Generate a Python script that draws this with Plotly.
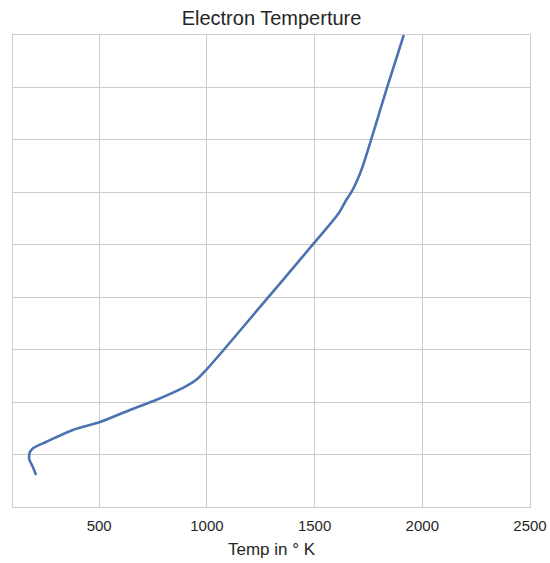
import plotly.graph_objects as go

# Electron temperature profile (x: temperature in K, y: altitude, unlabeled)
temp_k = [207, 190, 176, 175, 179, 193, 253, 378, 504, 643, 764, 889, 949, 996,
          1246, 1497, 1610, 1645, 1673, 1697, 1722, 1836, 1914]
altitude = [161, 178, 190, 198, 205, 212, 224, 247, 262, 285, 304, 327, 342, 361,
            481, 603, 659, 684, 702, 722, 748, 899, 1000]

x_ticks = [500, 1000, 1500, 2000, 2500]

fig = go.Figure()
fig.add_trace(go.Scatter(
    x=temp_k, y=altitude, mode="lines",
    line=dict(color="#4c72b0", width=2.6, shape="spline", smoothing=0.8),
    showlegend=False,
))

grid = "#cccccc"
txt = "#262626"
fig.update_layout(
    width=550, height=563,
    margin=dict(l=13, r=20, t=35, b=56, autoexpand=False),
    paper_bgcolor="white", plot_bgcolor="white",
    font=dict(family="Liberation Sans, Arial, sans-serif", color=txt, size=15),
    title=dict(text="Electron Temperture", x=0.5, xref="paper", xanchor="center",
               y=1 - 18 / 563, yanchor="middle", font=dict(size=20, color=txt)),
    xaxis=dict(range=[100, 2500], tickvals=x_ticks, showgrid=True, gridcolor=grid,
               gridwidth=1.3, showline=True, linecolor=grid, linewidth=1.3, mirror=True,
               zeroline=False, ticks="outside", ticklen=5, tickcolor="rgba(0,0,0,0)",
               automargin=False, tickfont=dict(size=15, color=txt)),
    yaxis=dict(range=[100, 1000], dtick=100, tick0=100, showgrid=True, gridcolor=grid,
               gridwidth=1.3, showline=True, linecolor=grid, linewidth=1.3, mirror=True,
               zeroline=False, showticklabels=False, ticks="", automargin=False),
    annotations=[dict(text="Temp in ° K", xref="paper", yref="paper", x=0.5,
                      y=(507 - 549) / 472, xanchor="center", yanchor="middle",
                      showarrow=False, font=dict(size=17, color=txt))],
)

fig.write_html("out.html")
